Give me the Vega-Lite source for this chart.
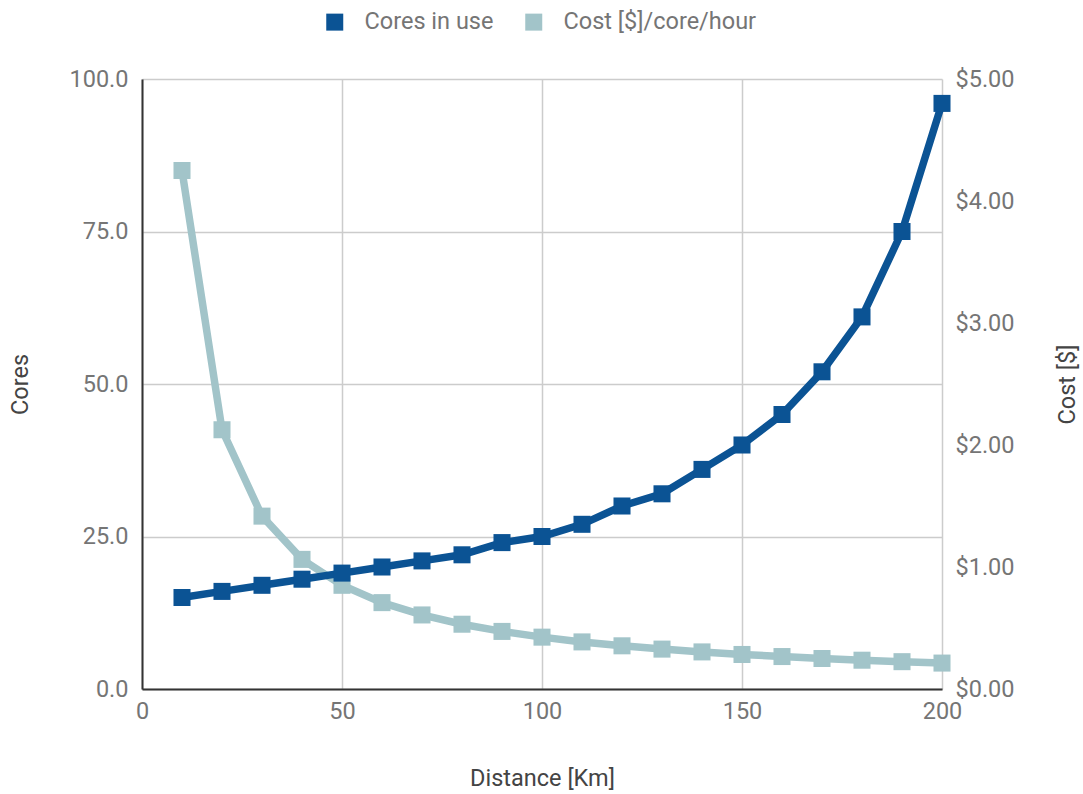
{
  "$schema": "https://vega.github.io/schema/vega-lite/v6.json",
  "width": 800,
  "height": 610,
  "autosize": {"type": "none"},
  "padding": {"left": 142, "top": 79, "right": 141, "bottom": 105},
  "background": "white",
  "config": {
    "view": {"stroke": null},
    "font": "Roboto",
    "axis": {
      "labelFont": "Roboto",
      "labelFontSize": 23.5,
      "labelColor": "#757575",
      "titleFont": "Roboto",
      "titleFontSize": 23.5,
      "titleFontWeight": "normal",
      "titleColor": "#444444",
      "gridColor": "#cccccc",
      "gridWidth": 1.5,
      "ticks": false,
      "labelFlush": false
    },
    "legend": {
      "labelFont": "Roboto",
      "labelFontSize": 23.5,
      "labelColor": "#757575",
      "labelLimit": 0
    }
  },
  "data": {
    "values": [
      {"distance": 10, "cores": 15, "cost": 4.25},
      {"distance": 20, "cores": 16, "cost": 2.125},
      {"distance": 30, "cores": 17, "cost": 1.417},
      {"distance": 40, "cores": 18, "cost": 1.0625},
      {"distance": 50, "cores": 19, "cost": 0.85},
      {"distance": 60, "cores": 20, "cost": 0.708},
      {"distance": 70, "cores": 21, "cost": 0.607},
      {"distance": 80, "cores": 22, "cost": 0.531},
      {"distance": 90, "cores": 24, "cost": 0.472},
      {"distance": 100, "cores": 25, "cost": 0.425},
      {"distance": 110, "cores": 27, "cost": 0.386},
      {"distance": 120, "cores": 30, "cost": 0.354},
      {"distance": 130, "cores": 32, "cost": 0.327},
      {"distance": 140, "cores": 36, "cost": 0.304},
      {"distance": 150, "cores": 40, "cost": 0.283},
      {"distance": 160, "cores": 45, "cost": 0.266},
      {"distance": 170, "cores": 52, "cost": 0.25},
      {"distance": 180, "cores": 61, "cost": 0.236},
      {"distance": 190, "cores": 75, "cost": 0.224},
      {"distance": 200, "cores": 96, "cost": 0.2125}
    ]
  },
  "encoding": {
    "x": {
      "field": "distance",
      "type": "quantitative",
      "scale": {"domain": [0, 200], "nice": false},
      "axis": {
        "title": "Distance [Km]",
        "values": [0, 50, 100, 150, 200],
        "labelPadding": 10,
        "titlePadding": 44,
        "domain": true,
        "domainColor": "#333333",
        "domainWidth": 2,
        "grid": true
      }
    }
  },
  "layer": [
    {
      "mark": {"type": "line", "strokeWidth": 7.5, "point": {"shape": "square", "size": 290, "filled": true, "opacity": 1}},
      "encoding": {
        "y": {
          "field": "cost",
          "type": "quantitative",
          "scale": {"domain": [0, 5], "nice": false},
          "axis": {
            "orient": "right",
            "title": "Cost [$]",
            "format": "$.2f",
            "values": [0, 1, 2, 3, 4, 5],
            "grid": false,
            "domain": false,
            "labelPadding": 13,
            "titlePadding": 65,
            "titleAngle": -90
          }
        },
        "color": {
          "datum": "Cost [$]/core/hour",
          "type": "nominal",
          "scale": {"domain": ["Cores in use", "Cost [$]/core/hour"], "range": ["#0b5394", "#a2c4c9"]},
          "legend": {
            "title": null,
            "orient": "none",
            "direction": "horizontal",
            "legendX": 181,
            "legendY": -69,
            "symbolType": "square",
            "symbolSize": 289,
            "symbolStrokeWidth": 0,
            "labelOffset": 18,
            "columnPadding": 28
          }
        }
      }
    },
    {
      "mark": {"type": "line", "strokeWidth": 7.5, "point": {"shape": "square", "size": 290, "filled": true, "opacity": 1}},
      "encoding": {
        "y": {
          "field": "cores",
          "type": "quantitative",
          "scale": {"domain": [0, 100], "nice": false},
          "axis": {
            "orient": "left",
            "title": "Cores",
            "format": ".1f",
            "values": [0, 25, 50, 75, 100],
            "labelPadding": 14,
            "titlePadding": 36,
            "domain": true,
            "domainColor": "#333333",
            "domainWidth": 2,
            "grid": true
          }
        },
        "color": {"datum": "Cores in use", "type": "nominal"}
      }
    }
  ],
  "resolve": {"scale": {"y": "independent"}}
}
